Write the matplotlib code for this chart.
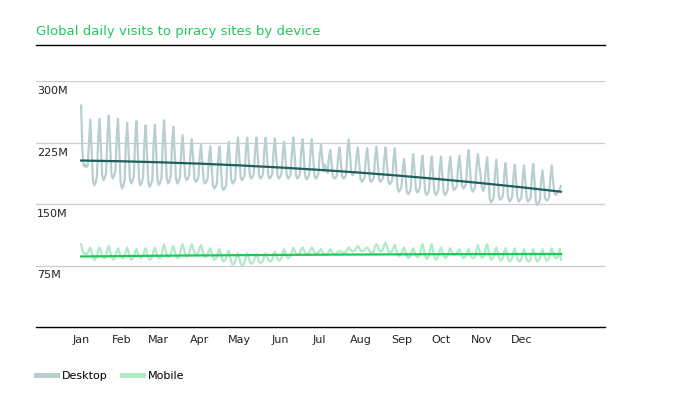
import numpy as np
import matplotlib
matplotlib.use("Agg")
from matplotlib import pyplot as plt
from matplotlib.lines import Line2D

# daily visits (millions), one row per week starting Jan 1
desktop_weeks = [
    [270, 214, 196, 198, 195, 197, 226],
    [253, 217, 179, 173, 176, 183, 230],
    [254, 220, 185, 179, 182, 188, 234],
    [258, 223, 187, 181, 184, 190, 232],
    [254, 216, 176, 169, 172, 179, 225],
    [249, 216, 181, 175, 178, 184, 228],
    [251, 216, 179, 173, 176, 182, 224],
    [246, 212, 177, 171, 174, 180, 224],
    [247, 214, 179, 173, 176, 182, 228],
    [252, 217, 181, 175, 178, 184, 223],
    [244, 213, 181, 175, 178, 183, 216],
    [234, 209, 183, 179, 181, 186, 214],
    [229, 206, 181, 177, 179, 183, 208],
    [222, 201, 179, 175, 177, 181, 206],
    [220, 197, 173, 169, 171, 175, 205],
    [220, 196, 171, 167, 169, 173, 208],
    [226, 203, 179, 175, 177, 181, 214],
    [231, 208, 183, 179, 181, 185, 215],
    [231, 209, 185, 181, 183, 187, 216],
    [231, 209, 185, 181, 183, 187, 216],
    [231, 209, 185, 181, 183, 187, 215],
    [230, 208, 185, 181, 183, 187, 212],
    [226, 206, 185, 181, 183, 186, 216],
    [231, 209, 185, 181, 183, 187, 215],
    [229, 207, 184, 180, 182, 186, 214],
    [229, 207, 185, 181, 183, 187, 210],
    [222, 205, 190, 198, 192, 188, 207],
    [216, 200, 184, 181, 182, 185, 208],
    [219, 202, 184, 181, 182, 186, 215],
    [229, 209, 189, 185, 187, 190, 209],
    [219, 200, 180, 177, 179, 182, 206],
    [218, 200, 180, 177, 179, 182, 207],
    [220, 201, 180, 177, 179, 182, 206],
    [219, 199, 178, 174, 176, 179, 205],
    [218, 194, 169, 165, 167, 171, 193],
    [205, 186, 165, 162, 164, 167, 196],
    [211, 190, 168, 164, 166, 170, 196],
    [209, 187, 165, 161, 163, 167, 194],
    [208, 187, 165, 161, 163, 167, 194],
    [208, 187, 165, 161, 163, 167, 194],
    [208, 190, 170, 167, 169, 172, 196],
    [209, 191, 172, 169, 171, 174, 202],
    [216, 193, 169, 165, 167, 171, 197],
    [211, 196, 186, 170, 166, 170, 194],
    [207, 182, 156, 152, 154, 159, 188],
    [204, 182, 159, 155, 157, 161, 187],
    [200, 179, 157, 153, 155, 159, 185],
    [198, 178, 157, 153, 155, 158, 184],
    [197, 177, 157, 153, 155, 158, 185],
    [199, 177, 153, 149, 151, 155, 178],
    [191, 174, 157, 154, 155, 158, 184],
    [197, 178, 164, 161, 163, 166, 168],
    [172],
]

mobile_weeks = [
    [101, 93, 89, 90, 89, 90, 94],
    [97, 91, 85, 82, 83, 86, 94],
    [97, 92, 86, 84, 84, 87, 95],
    [99, 92, 86, 82, 83, 86, 92],
    [96, 91, 86, 84, 84, 86, 93],
    [97, 91, 85, 82, 83, 86, 92],
    [95, 90, 86, 84, 85, 87, 93],
    [96, 90, 85, 82, 83, 86, 93],
    [97, 91, 86, 84, 84, 87, 96],
    [101, 94, 88, 85, 86, 89, 95],
    [99, 93, 87, 84, 85, 88, 97],
    [101, 95, 89, 86, 87, 90, 97],
    [101, 96, 91, 88, 89, 91, 97],
    [100, 94, 88, 85, 86, 89, 93],
    [96, 90, 85, 82, 83, 86, 92],
    [95, 89, 83, 80, 81, 84, 90],
    [93, 86, 79, 76, 77, 80, 87],
    [90, 84, 78, 75, 76, 79, 87],
    [90, 85, 80, 77, 78, 80, 86],
    [89, 85, 80, 78, 79, 81, 87],
    [90, 86, 82, 80, 80, 82, 89],
    [92, 87, 83, 81, 82, 84, 91],
    [95, 90, 86, 84, 85, 87, 93],
    [97, 93, 89, 88, 88, 90, 95],
    [97, 94, 90, 88, 89, 91, 94],
    [97, 94, 91, 89, 90, 91, 93],
    [95, 92, 89, 88, 88, 89, 93],
    [95, 92, 90, 89, 89, 90, 92],
    [93, 92, 91, 90, 91, 91, 95],
    [97, 95, 93, 92, 93, 94, 97],
    [99, 96, 94, 92, 93, 94, 96],
    [97, 95, 92, 90, 91, 92, 99],
    [101, 98, 94, 92, 93, 95, 100],
    [103, 98, 93, 90, 91, 93, 97],
    [100, 94, 89, 86, 87, 90, 94],
    [97, 92, 87, 84, 85, 87, 93],
    [96, 91, 87, 85, 86, 88, 97],
    [101, 94, 87, 83, 84, 88, 96],
    [101, 93, 86, 82, 83, 87, 93],
    [97, 92, 87, 84, 85, 87, 93],
    [96, 92, 89, 88, 88, 90, 93],
    [95, 90, 86, 84, 85, 87, 92],
    [95, 90, 86, 84, 84, 86, 96],
    [100, 94, 87, 84, 85, 88, 97],
    [101, 93, 86, 82, 83, 87, 94],
    [97, 91, 84, 81, 82, 85, 92],
    [96, 90, 83, 80, 81, 84, 92],
    [96, 89, 83, 80, 80, 83, 91],
    [95, 89, 82, 80, 80, 83, 91],
    [95, 89, 83, 80, 81, 84, 91],
    [95, 89, 84, 81, 82, 84, 92],
    [96, 91, 86, 84, 84, 87, 95],
    [82],
]

# trend lines, read at month starts (day index)
trend_days = [0, 31, 59, 90, 120, 151, 181, 212, 243, 273, 304, 334, 364]
desktop_trend = [203.0, 202.1, 200.9, 199.2, 197.1, 194.5, 191.6, 188.2, 184.3, 180.1, 175.4, 170.4, 165.0]
mobile_trend = [86.0, 86.5, 86.9, 87.3, 87.6, 87.9, 88.2, 88.4, 88.6, 88.8, 88.9, 89.0, 89.0]

month_days = [0, 31, 59, 90, 120, 151, 181, 212, 243, 273, 304, 334]
month_labels = ['Jan', 'Feb', 'Mar', 'Apr', 'May', 'Jun', 'Jul', 'Aug', 'Sep', 'Oct', 'Nov', 'Dec']
y_ticks = [75, 150, 225, 300]
y_labels = ['75M', '150M', '225M', '300M']

desktop = np.concatenate([np.array(w, dtype=float) for w in desktop_weeks])
mobile = np.concatenate([np.array(w, dtype=float) for w in mobile_weeks])
days = np.arange(len(desktop))

W, H = 678.0, 399.0
fig = plt.figure(figsize=(W / 100, H / 100), dpi=100)
ax = fig.add_axes([36 / W, 1 - 327 / H, 569 / W, 246 / H])

ax.plot(days, desktop, color='#b9cfcf', lw=1.6, zorder=2)
ax.plot(days, mobile, color='#b0eac7', lw=1.6, zorder=2)
ax.plot(trend_days, desktop_trend, color='#1d5e5e', lw=1.6, zorder=3)
ax.plot(trend_days, mobile_trend, color='#1fc85a', lw=1.6, zorder=3)

ax.set_xlim(-34.2, 397.4)
ax.set_ylim(0, 300)
ax.set_yticks(y_ticks)
ax.yaxis.grid(True, color='#cccccc', lw=0.9)
ax.set_axisbelow(True)
ax.tick_params(axis='y', length=0, labelleft=False)
ax.set_xticks(month_days)
ax.set_xticklabels(month_labels, fontsize=8, color='#222222')
ax.tick_params(axis='x', length=0, pad=6)
for s in ['top', 'right', 'left']:
    ax.spines[s].set_visible(False)
ax.spines['bottom'].set_color('black')
ax.spines['bottom'].set_linewidth(1.0)

for v, lab in zip(y_ticks, y_labels):
    ax.annotate(lab, xy=(0, v), xycoords=('axes fraction', 'data'),
                xytext=(0.8, -7.2), textcoords='offset points',
                ha='left', va='center', fontsize=8, color='#222222')

fig.text(36 / W, 1 - 31 / H, 'Global daily visits to piracy sites by device',
         fontsize=9.5, color='#1ec95c', ha='left', va='center')
fig.add_artist(Line2D([36 / W, 605 / W], [1 - 45 / H, 1 - 45 / H],
                      transform=fig.transFigure, color='black', lw=1.0))

handles = [Line2D([], [], color='#b9cfcf', lw=3.6),
           Line2D([], [], color='#b0eac7', lw=3.6)]
fig.legend(handles, ['Desktop', 'Mobile'], loc='center left',
           bbox_to_anchor=(36 / W, 1 - 376 / H), ncol=2, frameon=False,
           fontsize=8, handlelength=1.9, handletextpad=0.45,
           columnspacing=1.25, borderpad=0, borderaxespad=0)

plt.savefig('out.png', dpi=100)
